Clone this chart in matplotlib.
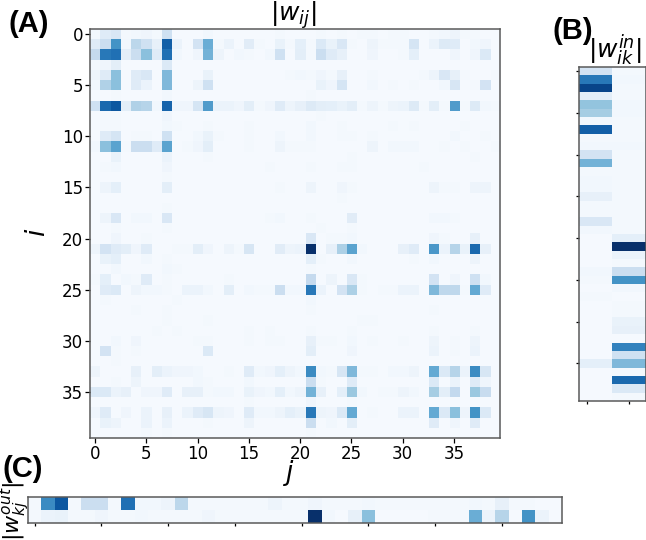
import matplotlib

matplotlib.use("Agg")
import matplotlib.pyplot as plt
import numpy as np

# couplings in hundredths, rows i = 0..39, columns j = 0..39
w_ij = [
    [3, 12, 15, 2, 3, 4, 2, 20, 1, 1, 1, 3, 1, 1, 1, 1, 1, 1, 2, 1, 1, 1, 2, 1, 2, 1, 2, 2, 1, 2, 2, 1, 1, 2, 3, 5, 2, 2, 1, 1],
    [12, 22, 62, 3, 28, 20, 8, 82, 6, 1, 18, 50, 2, 6, 1, 11, 2, 1, 7, 2, 9, 2, 14, 7, 15, 2, 1, 5, 2, 2, 2, 17, 1, 6, 13, 12, 1, 3, 4, 1],
    [25, 72, 75, 10, 22, 42, 12, 75, 3, 1, 4, 48, 5, 1, 3, 2, 1, 3, 20, 1, 10, 2, 22, 12, 8, 1, 1, 4, 1, 1, 2, 9, 1, 1, 1, 4, 1, 4, 14, 1],
    [2, 4, 10, 1, 1, 1, 1, 14, 1, 1, 1, 1, 1, 1, 1, 1, 1, 1, 1, 1, 1, 1, 1, 1, 1, 1, 1, 1, 1, 1, 1, 1, 1, 1, 1, 1, 1, 1, 1, 1],
    [5, 12, 42, 1, 12, 15, 1, 45, 1, 1, 1, 7, 1, 1, 1, 1, 1, 1, 1, 2, 3, 2, 4, 2, 8, 1, 1, 2, 1, 1, 1, 1, 2, 5, 15, 8, 2, 1, 1, 2],
    [3, 32, 42, 1, 12, 6, 1, 45, 1, 1, 5, 20, 1, 1, 1, 1, 1, 1, 1, 1, 1, 1, 7, 4, 17, 1, 1, 3, 1, 2, 1, 2, 1, 1, 3, 16, 1, 2, 18, 1],
    [1, 1, 2, 1, 1, 1, 1, 3, 1, 1, 1, 1, 1, 1, 1, 1, 1, 1, 1, 1, 1, 2, 1, 1, 1, 1, 1, 1, 1, 1, 1, 1, 1, 1, 1, 1, 1, 1, 1, 1],
    [20, 78, 85, 10, 32, 30, 3, 80, 4, 4, 17, 58, 6, 6, 4, 10, 2, 4, 12, 5, 8, 13, 10, 9, 7, 10, 2, 5, 2, 5, 6, 13, 2, 10, 2, 58, 2, 13, 3, 2],
    [1, 2, 2, 1, 1, 1, 1, 4, 1, 1, 1, 1, 1, 1, 1, 1, 1, 1, 1, 1, 1, 1, 2, 1, 1, 1, 1, 1, 1, 1, 1, 1, 1, 1, 1, 1, 1, 1, 1, 1],
    [1, 2, 2, 1, 1, 1, 1, 3, 2, 1, 1, 2, 1, 1, 1, 2, 1, 1, 1, 1, 1, 3, 1, 1, 2, 1, 1, 1, 1, 2, 1, 2, 1, 1, 1, 1, 2, 1, 1, 1],
    [1, 12, 17, 1, 2, 2, 1, 20, 1, 1, 3, 7, 2, 1, 1, 2, 1, 1, 3, 1, 1, 3, 1, 1, 2, 2, 1, 2, 1, 1, 1, 1, 1, 1, 1, 3, 1, 1, 2, 1],
    [3, 42, 55, 2, 22, 22, 12, 55, 1, 2, 4, 10, 1, 1, 1, 2, 1, 1, 5, 2, 2, 2, 1, 1, 1, 1, 1, 5, 1, 3, 3, 3, 1, 1, 2, 1, 2, 1, 1, 2],
    [1, 1, 7, 1, 1, 1, 1, 6, 1, 1, 1, 2, 1, 1, 1, 1, 1, 1, 1, 1, 1, 1, 1, 1, 1, 2, 1, 1, 1, 1, 1, 1, 1, 1, 1, 1, 1, 2, 1, 1],
    [1, 2, 3, 1, 1, 1, 1, 4, 1, 1, 1, 1, 1, 1, 1, 1, 1, 2, 1, 1, 1, 2, 1, 1, 2, 2, 1, 1, 1, 1, 1, 1, 2, 1, 1, 1, 1, 1, 1, 1],
    [1, 1, 1, 1, 1, 1, 1, 2, 1, 1, 1, 1, 1, 1, 1, 1, 1, 1, 1, 1, 1, 1, 1, 1, 1, 1, 1, 1, 1, 1, 1, 1, 1, 1, 1, 1, 1, 1, 1, 1],
    [1, 5, 9, 1, 1, 1, 1, 10, 1, 1, 1, 1, 1, 1, 1, 1, 1, 1, 2, 1, 1, 5, 1, 1, 4, 2, 1, 1, 1, 1, 1, 1, 1, 5, 2, 2, 1, 5, 5, 1],
    [1, 1, 1, 1, 1, 1, 1, 1, 1, 1, 1, 1, 1, 1, 1, 1, 1, 1, 1, 1, 1, 1, 1, 1, 2, 1, 1, 1, 1, 1, 1, 1, 1, 1, 1, 1, 1, 1, 1, 1],
    [1, 1, 1, 1, 1, 1, 1, 2, 1, 1, 1, 1, 1, 1, 1, 1, 1, 1, 1, 1, 1, 1, 1, 1, 1, 1, 1, 1, 1, 1, 1, 1, 1, 1, 1, 1, 1, 1, 1, 1],
    [1, 5, 15, 1, 3, 3, 1, 15, 1, 1, 1, 1, 1, 1, 1, 1, 1, 2, 3, 1, 1, 2, 1, 1, 1, 11, 1, 1, 1, 1, 1, 1, 1, 3, 3, 2, 1, 1, 1, 1],
    [1, 1, 2, 1, 1, 1, 1, 2, 1, 1, 1, 1, 1, 1, 1, 1, 1, 1, 1, 1, 1, 1, 2, 1, 1, 2, 1, 1, 1, 1, 1, 1, 1, 1, 1, 1, 1, 1, 1, 1],
    [1, 1, 4, 1, 1, 2, 1, 1, 1, 1, 1, 1, 1, 1, 1, 1, 1, 1, 1, 1, 1, 15, 1, 2, 2, 3, 1, 1, 1, 1, 1, 1, 1, 4, 2, 1, 1, 8, 1, 1],
    [5, 18, 12, 10, 4, 12, 1, 1, 2, 2, 10, 4, 1, 5, 2, 16, 1, 1, 11, 5, 6, 100, 1, 8, 33, 55, 3, 1, 1, 1, 8, 12, 1, 60, 6, 30, 7, 78, 8, 1],
    [1, 7, 9, 1, 1, 3, 1, 2, 1, 1, 1, 1, 1, 1, 1, 1, 1, 1, 1, 1, 1, 9, 2, 1, 1, 3, 1, 1, 1, 1, 1, 2, 1, 3, 1, 1, 1, 5, 1, 1],
    [1, 1, 3, 1, 1, 1, 1, 3, 2, 1, 1, 1, 1, 1, 1, 1, 1, 1, 1, 1, 1, 2, 1, 1, 1, 1, 1, 1, 1, 1, 1, 1, 1, 1, 1, 1, 1, 1, 1, 1],
    [2, 9, 1, 3, 2, 12, 1, 2, 1, 1, 1, 1, 1, 2, 1, 1, 1, 1, 1, 1, 1, 25, 1, 5, 1, 15, 2, 1, 1, 1, 1, 1, 1, 18, 1, 4, 1, 20, 3, 1],
    [1, 12, 14, 1, 5, 3, 3, 2, 1, 6, 6, 3, 1, 10, 1, 3, 2, 2, 22, 3, 3, 72, 6, 1, 18, 33, 2, 1, 2, 2, 6, 6, 1, 45, 27, 27, 2, 52, 12, 1],
    [1, 2, 1, 1, 1, 1, 1, 1, 2, 1, 1, 1, 1, 1, 1, 1, 1, 1, 1, 1, 1, 3, 1, 1, 1, 1, 1, 1, 1, 1, 1, 1, 1, 1, 1, 1, 1, 1, 1, 1],
    [1, 1, 1, 1, 2, 1, 1, 2, 1, 1, 1, 1, 1, 1, 1, 1, 1, 1, 1, 1, 1, 2, 1, 1, 1, 1, 1, 1, 1, 1, 1, 1, 1, 2, 1, 1, 1, 1, 1, 1],
    [1, 1, 1, 1, 1, 1, 1, 2, 1, 1, 1, 2, 1, 1, 1, 1, 1, 1, 1, 1, 1, 1, 1, 1, 1, 1, 2, 2, 1, 1, 1, 1, 1, 1, 1, 1, 1, 1, 1, 1],
    [1, 1, 1, 1, 1, 1, 2, 1, 2, 1, 1, 1, 1, 1, 1, 2, 1, 2, 1, 1, 1, 2, 1, 1, 1, 2, 1, 1, 1, 1, 1, 1, 1, 2, 1, 1, 1, 2, 1, 1],
    [1, 1, 3, 1, 4, 1, 1, 1, 1, 1, 2, 2, 1, 1, 1, 2, 1, 2, 2, 1, 1, 8, 2, 2, 1, 3, 1, 2, 1, 1, 2, 1, 1, 5, 1, 2, 1, 5, 1, 1],
    [1, 18, 2, 1, 2, 1, 1, 1, 1, 1, 1, 14, 1, 1, 1, 1, 1, 1, 1, 1, 1, 10, 1, 1, 1, 4, 1, 1, 1, 1, 1, 1, 1, 6, 1, 2, 1, 6, 1, 1],
    [1, 1, 2, 1, 1, 1, 1, 1, 1, 1, 1, 1, 1, 1, 1, 1, 1, 1, 1, 1, 1, 1, 1, 1, 1, 1, 1, 1, 1, 1, 1, 1, 1, 1, 1, 1, 1, 1, 1, 1],
    [5, 1, 1, 1, 8, 1, 10, 6, 4, 4, 3, 1, 1, 2, 1, 12, 3, 4, 9, 5, 3, 65, 3, 2, 16, 45, 2, 2, 1, 3, 3, 5, 1, 52, 14, 30, 6, 65, 16, 1],
    [1, 1, 2, 1, 5, 1, 1, 1, 1, 1, 3, 2, 1, 1, 1, 3, 1, 1, 1, 1, 1, 22, 2, 1, 1, 12, 1, 1, 1, 1, 1, 1, 1, 14, 1, 6, 1, 12, 4, 1],
    [14, 14, 6, 8, 1, 4, 4, 12, 1, 8, 8, 2, 3, 3, 1, 7, 4, 3, 9, 3, 5, 48, 8, 1, 9, 38, 3, 1, 2, 2, 5, 3, 1, 35, 10, 26, 1, 38, 24, 1],
    [1, 1, 1, 1, 1, 1, 1, 1, 1, 1, 1, 1, 1, 1, 1, 2, 1, 1, 1, 1, 1, 4, 1, 1, 1, 2, 1, 1, 1, 1, 1, 1, 1, 1, 1, 1, 1, 1, 1, 1],
    [4, 12, 1, 4, 1, 6, 1, 8, 1, 6, 12, 16, 5, 4, 1, 12, 3, 3, 5, 9, 7, 72, 5, 4, 14, 52, 1, 2, 1, 1, 6, 6, 1, 52, 14, 42, 5, 62, 14, 1],
    [1, 7, 5, 1, 1, 6, 1, 6, 1, 1, 1, 2, 1, 1, 1, 5, 1, 1, 1, 1, 1, 22, 1, 3, 1, 10, 1, 1, 1, 1, 1, 1, 1, 12, 1, 4, 1, 12, 1, 1],
    [1, 1, 1, 1, 1, 2, 1, 2, 1, 1, 1, 1, 1, 1, 1, 1, 1, 1, 1, 1, 1, 2, 1, 1, 1, 1, 1, 1, 1, 1, 1, 1, 1, 1, 1, 1, 1, 1, 1, 1],
]

# input weights, one pair per row i
w_in_k0 = [18, 72, 92, 10, 40, 35, 3, 82, 2, 3, 18, 48, 2, 3, 3, 8, 2, 2, 15, 3, 1, 1, 1, 1, 3, 2, 1, 2, 1, 1, 1, 1, 1, 1, 1, 9, 1, 1, 1, 1]
w_in_k1 = [2, 3, 2, 2, 3, 3, 2, 2, 2, 3, 2, 2, 2, 2, 2, 2, 2, 2, 2, 2, 9, 100, 6, 2, 22, 62, 3, 1, 2, 2, 7, 8, 1, 68, 20, 45, 2, 78, 14, 2]

# output weights, one pair per column j
w_out_k0 = [2, 65, 85, 2, 22, 22, 2, 75, 3, 3, 5, 28, 2, 2, 2, 2, 2, 2, 5, 2, 2, 4, 2, 2, 2, 3, 2, 2, 2, 2, 2, 2, 2, 3, 2, 8, 2, 2, 1, 1]
w_out_k1 = [2, 6, 7, 2, 2, 4, 2, 2, 3, 2, 2, 2, 2, 4, 2, 2, 2, 2, 2, 2, 2, 100, 3, 1, 8, 42, 1, 1, 1, 1, 2, 2, 2, 50, 6, 30, 1, 62, 6, 1]

matrix_ticks = [0, 5, 10, 15, 20, 25, 30, 35]
W, H = 646, 540
SPINE = "#5a5a5a"


def add_axes_px(fig, left, top, right, bottom):
    return fig.add_axes([left / W, 1 - bottom / H, (right - left) / W, (bottom - top) / H])


def style_spines(ax):
    for spine in ax.spines.values():
        spine.set_color(SPINE)
        spine.set_linewidth(1.1)


fig = plt.figure(figsize=(W / 100, H / 100), dpi=100)

# main coupling matrix
ax = add_axes_px(fig, 90, 29, 500, 438)
ax.imshow(np.array(w_ij) / 100, cmap="Blues", vmin=0, vmax=1, aspect="auto", interpolation="nearest")
ax.set_xticks(matrix_ticks)
ax.set_yticks(matrix_ticks)
ax.tick_params(labelsize=12, length=3.5, width=0.9, pad=1.5)
style_spines(ax)

# input weights on the right
ax_in = add_axes_px(fig, 579, 67, 646, 401)
ax_in.imshow(np.array([w_in_k0, w_in_k1]).T / 100, cmap="Blues", vmin=0, vmax=1, aspect="auto", interpolation="nearest")
ax_in.set_yticks(matrix_ticks)
ax_in.set_xticks([-0.25, 1])
ax_in.tick_params(labelleft=False, labelbottom=False, length=2.5, width=0.9)
style_spines(ax_in)

# output weights along the bottom
ax_out = add_axes_px(fig, 28, 497, 562, 523)
ax_out.imshow(np.array([w_out_k0, w_out_k1]) / 100, cmap="Blues", vmin=0, vmax=1, aspect="auto", interpolation="nearest")
ax_out.set_xticks(matrix_ticks)
ax_out.set_yticks([])
ax_out.tick_params(labelbottom=False, length=2.5, width=0.9)
style_spines(ax_out)

# math labels placed in pixel positions around the panels
math_labels = [
    (r"$|w_{ij}|$", 293, 15, 0, 18),
    (r"$i$", 38, 232, 90, 19),
    (r"$j$", 289, 473, 0, 19),
    (r"$|w_{ik}^{in}|$", 615, 50, 0, 18),
    (r"$|w_{kj}^{out}|$", 16, 511, 90, 16),
]
for text, x, y, rotation, size in math_labels:
    fig.text(x / W, 1 - y / H, text, fontsize=size, rotation=rotation, ha="center", va="center")

# panel letters
for letter, x, y in [("(A)", 9, 32), ("(B)", 552, 39), ("(C)", 2, 477)]:
    fig.text(x / W, 1 - y / H, letter, fontsize=21, fontweight="bold", family="Liberation Sans")

fig.savefig("out.png", dpi=100, facecolor="white")
plt.close(fig)
